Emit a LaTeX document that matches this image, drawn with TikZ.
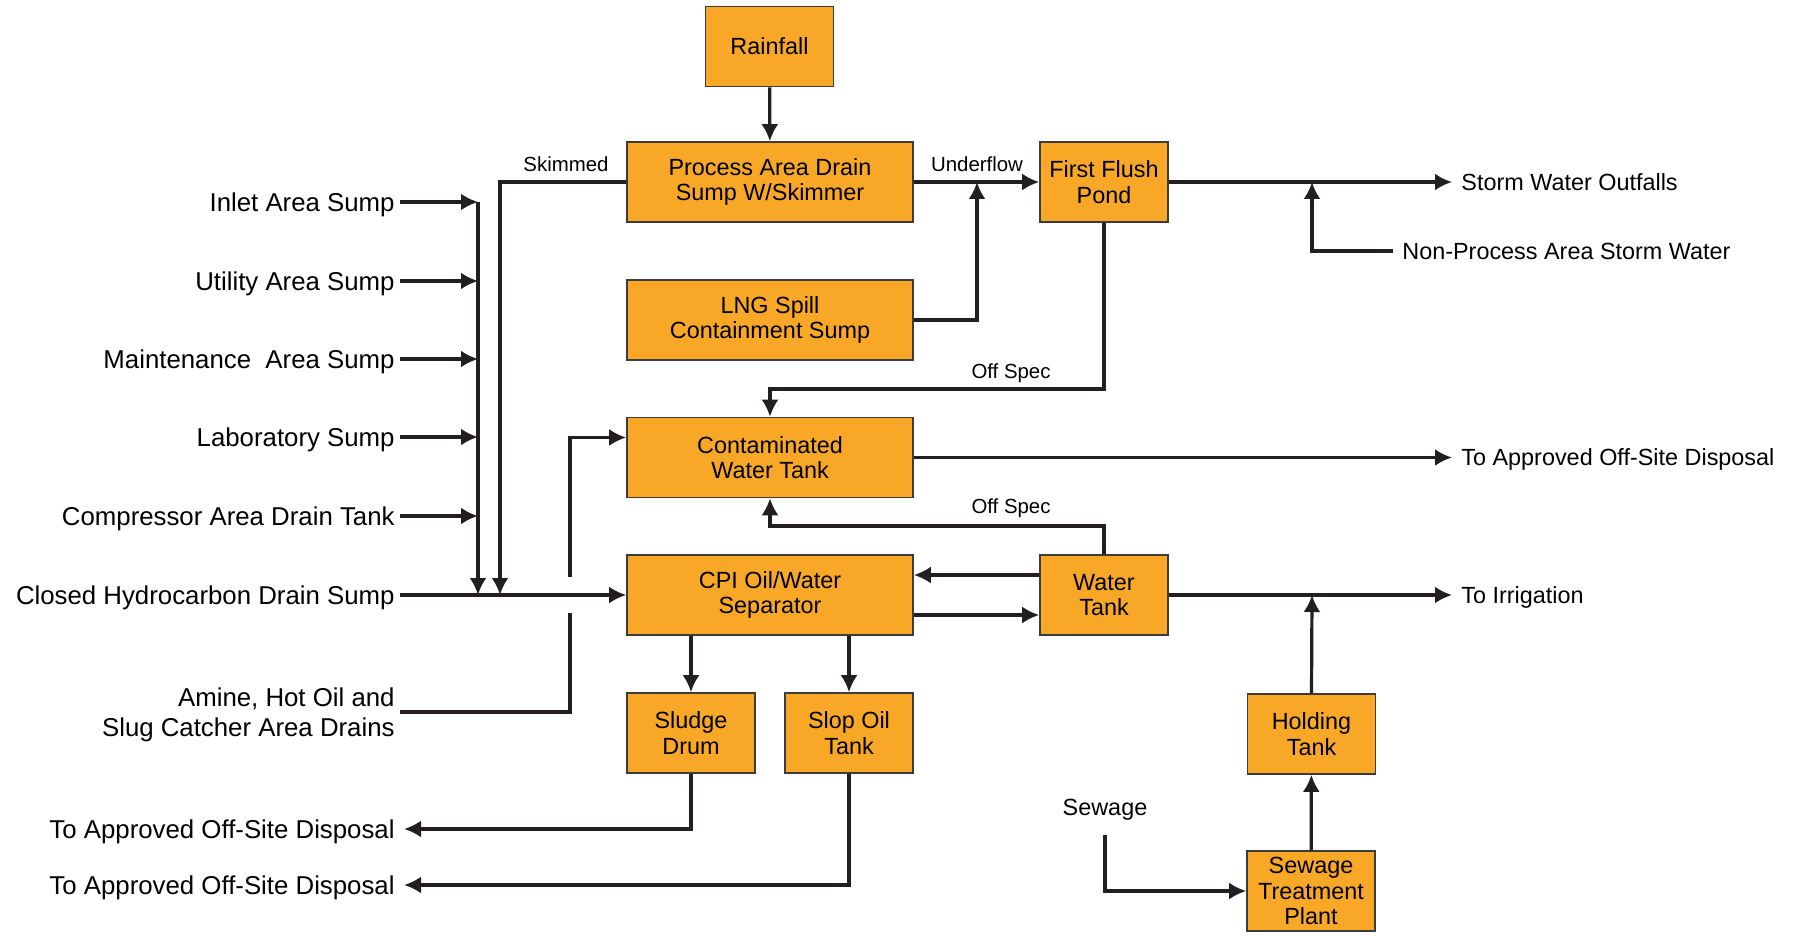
\documentclass[tikz,border=0pt]{standalone}
\usepackage{fontspec}
\setmainfont{Liberation Sans}
\usetikzlibrary{arrows.meta}

\definecolor{boxorange}{RGB}{248,168,38}
\definecolor{inkline}{RGB}{35,31,32}
\definecolor{boxedge}{RGB}{60,60,60}

\newcommand{\boxfont}{\fontsize{11.7}{12.8}\selectfont}
\newcommand{\lblfont}{\fontsize{12.9}{14.9}\selectfont}
\newcommand{\tagfont}{\fontsize{10.2}{12}\selectfont}

\tikzset{
  unit/.style={draw=boxedge, line width=0.8pt, fill=boxorange, align=center,
    minimum width=143pt, minimum height=40pt, inner sep=0pt, font=\boxfont},
  smallunit/.style={unit, minimum width=64pt},
  lbl/.style={inner xsep=2.5pt, inner ysep=0pt, text depth=0pt, font=\lblfont},
  tgt/.style={inner xsep=4.5pt, inner ysep=0pt, text depth=0pt, font=\lblfont},
  rtgt/.style={tgt, font=\boxfont},
  tag/.style={inner sep=0pt, font=\tagfont},
  flow/.style={draw=inkline, line width=1.6pt, -{Latex[length=8.5pt,width=8.5pt]}},
  plain/.style={draw=inkline, line width=1.6pt}
}

\begin{document}
\begin{tikzpicture}[x=0.5pt, y=-0.5pt]

\useasboundingbox (0,0) rectangle (1798,936);

% Draw the process units
\node[unit, minimum width=64pt] (rain) at (769.5,46.5) {Rainfall};
\node[unit] (pads) at (770,182) {Process Area Drain\\Sump W/Skimmer};
\node[smallunit] (ffp) at (1104,182) {First Flush\\Pond};
\node[unit] (lng) at (770,320) {LNG Spill\\Containment Sump};
\node[unit] (cwt) at (770,457.5) {Contaminated\\Water Tank};
\node[unit] (cpi) at (770,595) {CPI Oil/Water\\Separator};
\node[smallunit] (wt) at (1104,595) {Water\\Tank};
\node[smallunit] (sludge) at (691,733) {Sludge\\Drum};
\node[smallunit] (slop) at (849,733) {Slop Oil\\Tank};
\node[smallunit] (hold) at (1311.5,734) {Holding\\Tank};
\node[smallunit] (stp) at (1311,891) {Sewage\\Treatment\\Plant};

% Draw the sources on the left
\node[lbl, anchor=east] (inlet) at (400,202) {Inlet Area Sump};
\node[lbl, anchor=east] (util) at (400,281) {Utility Area Sump};
\node[lbl, anchor=east] (maint) at (400,359) {Maintenance~ Area Sump};
\node[lbl, anchor=east] (lab) at (400,437) {Laboratory Sump};
\node[lbl, anchor=east] (comp) at (400,516) {Compressor Area Drain Tank};
\node[lbl, anchor=east] (closed) at (400,595) {Closed Hydrocarbon Drain Sump};
\node[lbl, anchor=east, align=right] (amine) at (400,712) {Amine, Hot Oil and\\Slug Catcher Area Drains};

% Draw the destinations
\node[rtgt, anchor=west] (swo) at (1452,182) {Storm Water Outfalls};
\node[rtgt, anchor=west] (npsw) at (1393,251) {Non-Process Area Storm Water};
\node[rtgt, anchor=west] (disp1) at (1452,457.5) {To Approved Off-Site Disposal};
\node[rtgt, anchor=west] (irr) at (1452,595) {To Irrigation};
\node[tgt, anchor=east] (disp2) at (404,829) {To Approved Off-Site Disposal};
\node[tgt, anchor=east] (disp3) at (404,885) {To Approved Off-Site Disposal};
\node[inner xsep=0pt, inner ysep=7pt, font=\boxfont] (sew) at (1105,810) {Sewage};

% Junction points
\coordinate (c1top) at (478,202);
\coordinate (c1bot) at (478,595);
\coordinate (c2bot) at (500,595);
\coordinate (amj) at (570,712);
\coordinate (gaplo) at (570,613);
\coordinate (gaphi) at (570,577);
\coordinate (uf) at (977,182);
\coordinate (sj) at (1312,182);
\coordinate (os1) at (1104,389);
\coordinate (os2) at (1104,526);
\coordinate (ij) at (1312,595);

% Collector on the left
\foreach \src in {inlet,util,maint,lab,comp}
  \draw[flow] (\src.east) -- (\src.east -| c1top);
\draw[flow] (c1top) -- (c1bot);
\draw[flow] (pads.west) -| (c2bot);
\node[tag] at (566,164) {Skimmed};
\draw[flow] (closed.east) -- (cpi.west);
\draw[plain] (amine.east) -- (amine.east -| amj) -- (gaplo);
\draw[flow] (gaphi) |- ([yshift=10pt]cwt.west);

% Top part
\draw[flow] (rain) -- (pads);
\draw[flow] (pads.east) -- (ffp.west);
\node[tag, above=5pt] at (uf) {Underflow};
\draw[flow] (lng.east) -| (uf);
\draw[flow] (ffp.east) -- (swo.west);
\draw[flow] (npsw.west) -| (sj);

% Off spec returns
\draw[flow] (ffp.south) -- (os1) -| (cwt.north);
\node[tag] at (1011,373) {Off Spec};
\draw[flow] (wt.north) -- (os2) -| (cwt.south);
\node[tag] at (1011,508) {Off Spec};
\draw[flow] (cwt.east) -- (disp1.west);

% Separator and water tank
\draw[flow] ([yshift=10pt]wt.west) -- ([yshift=10pt]cpi.east);
\draw[flow] ([yshift=-10pt]cpi.east) -- ([yshift=-10pt]wt.west);
\draw[flow] (wt.east) -- (irr.west);
\draw[flow] (hold.north) -- (ij);
\draw[flow] (cpi.south -| sludge) -- (sludge.north);
\draw[flow] (cpi.south -| slop) -- (slop.north);
\draw[flow] (sludge.south) |- (disp2.east);
\draw[flow] (slop.south) |- (disp3.east);

% Sewage
\draw[flow] (sew.south) |- (stp.west);
\draw[flow] (stp) -- (hold);

\end{tikzpicture}
\end{document}
